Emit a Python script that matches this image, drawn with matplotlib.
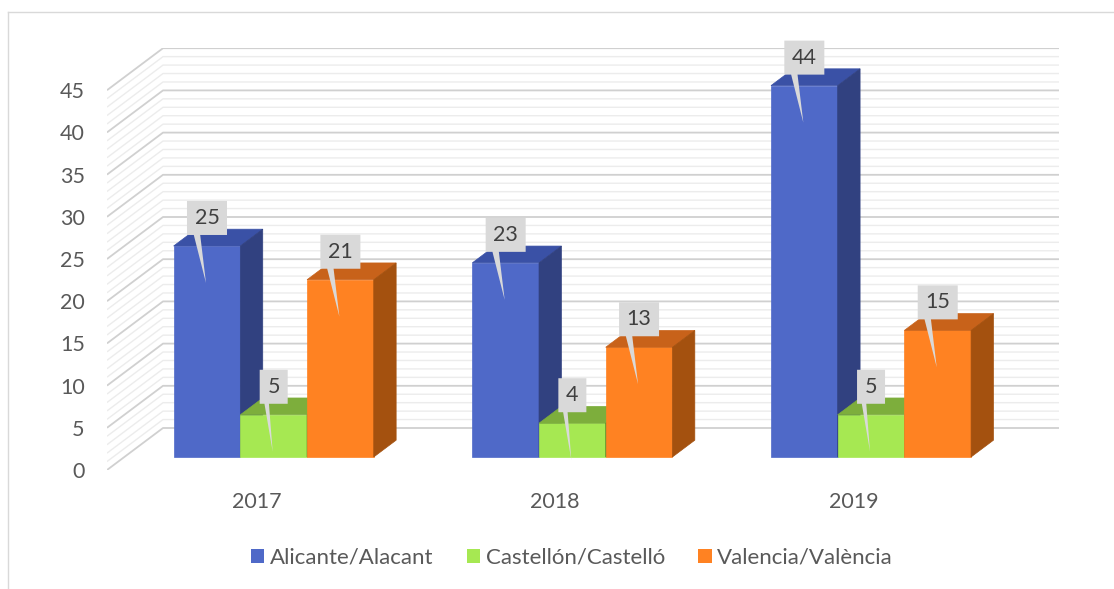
import matplotlib
matplotlib.use("Agg")
import matplotlib.pyplot as plt
from matplotlib.patches import Polygon, Patch
from matplotlib.lines import Line2D

plt.rcParams['font.family'] = ['Lato', 'DejaVu Sans']

# datos
years = ['2017', '2018', '2019']
series = ['Alicante/Alacant', 'Castellón/Castelló', 'Valencia/València']
alicante = [25, 23, 44]
castellon = [5, 4, 5]
valencia = [21, 13, 15]
values = [alicante, castellon, valencia]
yticks = list(range(0, 50, 5))

front_cols = ['#4F69C8', '#A6E852', '#FF8222']
top_cols = ['#3A51A6', '#7DAE3C', '#C8621A']
side_cols = ['#314180', '#5F8A2A', '#A4510F']
txt_col = '#595959'

W, H = 1114, 589
fig = plt.figure(figsize=(W / 100, H / 100), dpi=100)
# escala en píxeles del plano frontal
px_cat = 298.67
px_val = 8.44
ax = fig.add_axes([107 / W, (H - 470) / H, 952 / W, 422 / H])
ax.set_xlim(0, 952 / px_cat)
ax.set_ylim(0, 422 / px_val)
for s in ax.spines.values():
    s.set_visible(False)

kx = 1 / px_cat          # categorías por píxel
ky = 1 / px_val          # valor por píxel
Dx, Dy = 56 * kx, 42 * ky  # profundidad total

# rejilla: pared lateral y pared del fondo
for v in range(0, 46):
    major = v % 5 == 0
    ax.plot([0, Dx, 3 + Dx], [v, v + Dy, v + Dy],
            color='#d0d0d0' if major else '#ececec',
            lw=1.3 if major else 1.0, zorder=1, solid_capstyle='butt')

# barras 3D
f1, f2 = 0.31, 0.71
bw = 66.7 * kx
for c in range(len(years)):
    for s in range(len(series)):
        v = values[s][c]
        x0 = c + 0.5 + (s - 1.5) * bw + f1 * Dx
        y0 = f1 * Dy
        ddx, ddy = (f2 - f1) * Dx, (f2 - f1) * Dy
        z = 3 + c * 3 + s
        ax.add_patch(Polygon([(x0, y0), (x0 + bw, y0), (x0 + bw, y0 + v), (x0, y0 + v)],
                             closed=True, fc=front_cols[s], ec=front_cols[s], lw=0.5,
                             zorder=z, clip_on=False))
        ax.add_patch(Polygon([(x0, y0 + v), (x0 + bw, y0 + v), (x0 + bw + ddx, y0 + v + ddy),
                              (x0 + ddx, y0 + v + ddy)],
                             closed=True, fc=top_cols[s], ec=top_cols[s], lw=0.5,
                             zorder=z, clip_on=False))
        ax.add_patch(Polygon([(x0 + bw, y0), (x0 + bw + ddx, y0 + ddy),
                              (x0 + bw + ddx, y0 + v + ddy), (x0 + bw, y0 + v)],
                             closed=True, fc=side_cols[s], ec=side_cols[s], lw=0.5,
                             zorder=z, clip_on=False))

# etiquetas con globo
for c in range(len(years)):
    for s in range(len(series)):
        v = values[s][c]
        xc = c + 0.5 + (s - 1) * bw + f1 * Dx
        yt = f1 * Dy + v
        bwid = (40 if v >= 10 else 28) * kx
        xl = xc - bwid / 2
        yb = yt + 11 * ky
        ytop = yb + 34 * ky
        pts = [(xl, yb), (xl + 0.17 * bwid, yb), (xc - 1 * kx, yt - 37 * ky),
               (xl + 0.33 * bwid, yb), (xl + bwid, yb), (xl + bwid, ytop), (xl, ytop)]
        ax.add_patch(Polygon(pts, closed=True, fc='#d9d9d9', ec='none', zorder=30,
                             clip_on=False))
        ax.text(xc, (yb + ytop) / 2, str(v), ha='center', va='center',
                fontsize=15.5, color='#404040', zorder=31)

ax.set_yticks(yticks)
ax.set_yticklabels([str(t) for t in yticks])
ax.set_xticks([0.5, 1.5, 2.5])
ax.set_xticklabels(years)
ax.tick_params(axis='y', length=0, pad=16, labelsize=15.5, labelcolor=txt_col)
ax.tick_params(axis='x', length=0, pad=16, labelsize=15.5, labelcolor=txt_col)

handles = [Patch(facecolor=front_cols[i], label=series[i]) for i in range(3)]
fig.legend(handles=handles, loc='center', bbox_to_anchor=(572 / W, 1 - 558 / H), ncol=3,
           frameon=False, fontsize=16, handlelength=0.6, handleheight=0.6,
           handletextpad=0.25, columnspacing=1.5, labelcolor=txt_col)

# borde del gráfico
fig.add_artist(Line2D([8 / W, 1], [1 - 12 / H, 1 - 12 / H], color='#d9d9d9', lw=1))
fig.add_artist(Line2D([8 / W, 8 / W], [0, 1 - 12 / H], color='#d9d9d9', lw=1))

fig.savefig('out.png', dpi=100)
